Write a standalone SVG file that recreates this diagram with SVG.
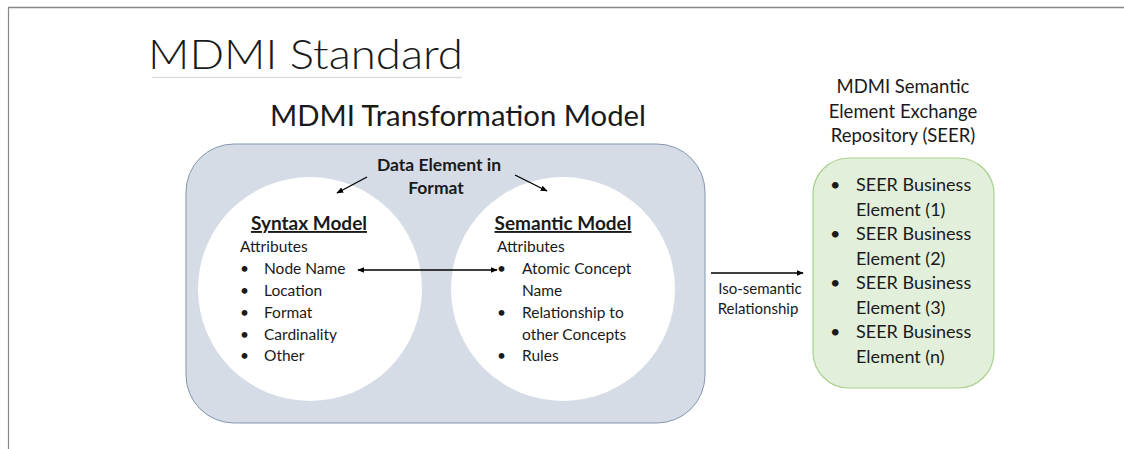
<svg xmlns="http://www.w3.org/2000/svg" width="1124" height="449" viewBox="0 0 1124 449">
<defs>
<marker id="ah" viewBox="0 0 10 10" refX="9" refY="5" markerWidth="7" markerHeight="7" orient="auto-start-reverse" markerUnits="userSpaceOnUse"><path d="M0,1 L10,5 L0,9 z" fill="#000"/></marker>
<style>
text{font-family:Lato,"Open Sans","Liberation Sans",sans-serif;fill:#1a1a1a}
.b{font-weight:bold}
.it{font-size:15.5px}
.sr{font-size:18px}
.st{font-size:18.5px}
.cn{stroke:#000;stroke-width:1.3;fill:none}
</style>
</defs>
<rect width="1124" height="449" fill="#fff"/>
<g id="frame">
<line x1="8" y1="7.5" x2="1124" y2="7.5" stroke="#888" stroke-width="1.5"/>
<line x1="8.5" y1="7" x2="8.5" y2="449" stroke="#888" stroke-width="1.2"/>
</g>
<g id="title">
<text x="148" y="69" font-size="41" font-weight="300" textLength="315" lengthAdjust="spacingAndGlyphs">MDMI Standard</text>
<line x1="152" y1="77.5" x2="462" y2="77.5" stroke="#ddd" stroke-width="1.5"/>
</g>
<g id="transformation-model">
<text x="458" y="126" font-size="28" text-anchor="middle" textLength="376" lengthAdjust="spacingAndGlyphs">MDMI Transformation Model</text>
<rect x="186" y="144" width="519" height="279" rx="48" fill="#d6dce5" stroke="#8497b0" stroke-width="1"/>
</g>
<g id="syntax-model">
<circle cx="310" cy="289" r="112" fill="#fff"/>
<text x="309" y="230" font-size="19" class="b" text-anchor="middle" text-decoration="underline">Syntax Model</text>
<text x="240" y="252" class="it">Attributes</text>
<g class="it">
<text x="240" y="274">•</text><text x="264" y="274">Node Name</text>
<text x="240" y="296">•</text><text x="264" y="296">Location</text>
<text x="240" y="318">•</text><text x="264" y="318">Format</text>
<text x="240" y="340">•</text><text x="264" y="340">Cardinality</text>
<text x="240" y="361">•</text><text x="264" y="361">Other</text>
</g>
</g>
<g id="semantic-model">
<circle cx="563" cy="289" r="112" fill="#fff"/>
<text x="563" y="230" font-size="19" class="b" text-anchor="middle" text-decoration="underline">Semantic Model</text>
<text x="497" y="252" class="it">Attributes</text>
<g class="it">
<text x="497" y="274">•</text><text x="522" y="274">Atomic Concept</text>
<text x="522" y="296">Name</text>
<text x="497" y="318">•</text><text x="522" y="318">Relationship to</text>
<text x="522" y="340">other Concepts</text>
<text x="497" y="361">•</text><text x="522" y="361">Rules</text>
</g>
</g>
<g id="data-element">
<text x="439" y="171" font-size="17.5" class="b" text-anchor="middle">Data Element in</text>
<text x="436" y="194" font-size="17.5" class="b" text-anchor="middle">Format</text>
</g>
<g id="seer">
<text x="903" y="93" class="st" text-anchor="middle">MDMI Semantic</text>
<text x="903" y="118" class="st" text-anchor="middle">Element Exchange</text>
<text x="903" y="142" class="st" text-anchor="middle">Repository (SEER)</text>
<rect x="813" y="158" width="181" height="230" rx="36" fill="#e2efda" stroke="#a9d18e" stroke-width="1.2"/>
<g class="sr">
<text x="830" y="191">•</text><text x="856" y="191">SEER Business</text>
<text x="856" y="216">Element (1)</text>
<text x="830" y="240">•</text><text x="856" y="240">SEER Business</text>
<text x="856" y="265">Element (2)</text>
<text x="830" y="289">•</text><text x="856" y="289">SEER Business</text>
<text x="856" y="314">Element (3)</text>
<text x="830" y="338">•</text><text x="856" y="338">SEER Business</text>
<text x="856" y="363">Element (n)</text>
</g>
</g>
<g id="connectors">
<line class="cn" x1="367" y1="177" x2="337" y2="193" marker-end="url(#ah)"/>
<line class="cn" x1="515" y1="175" x2="547" y2="191" marker-end="url(#ah)"/>
<line class="cn" x1="358" y1="270" x2="497" y2="270" marker-start="url(#ah)" marker-end="url(#ah)"/>
<line class="cn" x1="711" y1="273" x2="803" y2="273" marker-end="url(#ah)"/>
<text x="760" y="294" font-size="15" text-anchor="middle">Iso-semantic</text>
<text x="758" y="314" font-size="15" text-anchor="middle">Relationship</text>
</g>
</svg>
